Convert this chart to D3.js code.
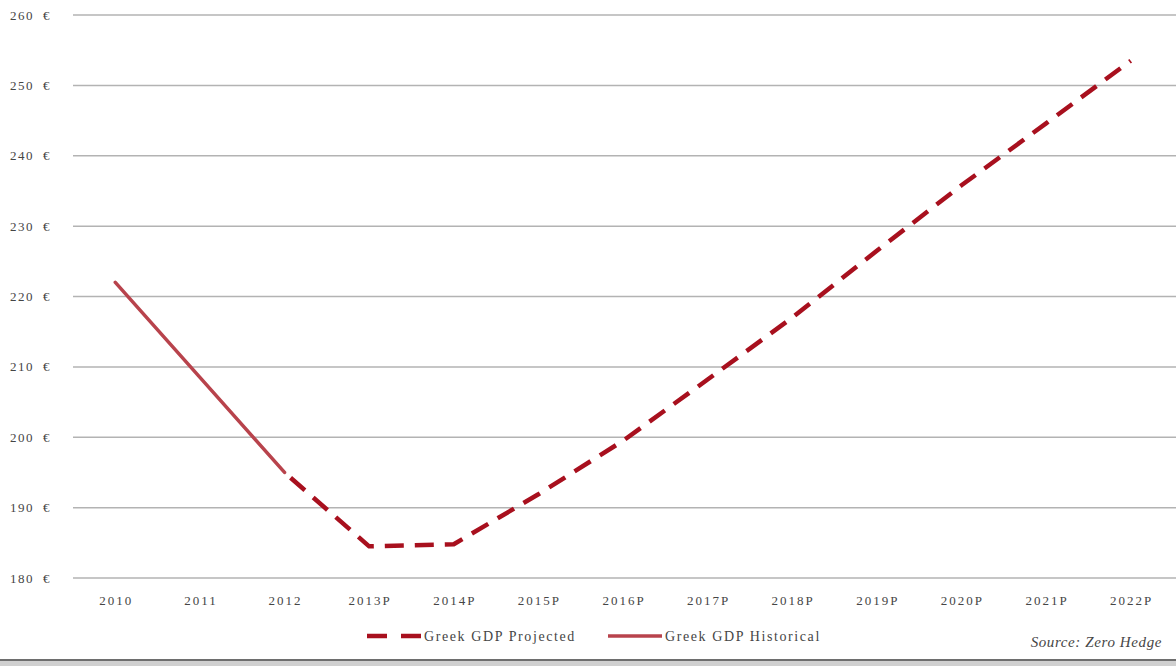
<!DOCTYPE html>
<html><head><meta charset="utf-8">
<script src="https://cdn.jsdelivr.net/npm/d3@7"></script>
<style>body{margin:0;background:#fff;}svg{display:block;}</style>
</head><body><svg id="c" width="1176" height="666"></svg>
<script>
const categories = ["2010","2011","2012","2013P","2014P","2015P","2016P","2017P","2018P","2019P","2020P","2021P","2022P"];
const historical = [222.0, 208.5, 195.0, null, null, null, null, null, null, null, null, null, null];
const projected = [null, null, 195.0, 184.5, 184.8, 191.9, 199.5, 208.2, 217.0, 226.5, 235.8, 244.6, 253.5];
const yTicks = [180,190,200,210,220,230,240,250,260];
const legendLabels = ["Greek GDP Projected", "Greek GDP Historical"];
const sourceText = "Source: Zero Hedge";

const svg = d3.select("#c");
const W = 1176, H = 666;
const x = d3.scaleBand().domain(categories).range([73, 1173]);
const y = d3.scaleLinear().domain([180, 260]).range([578, 15]);
const font = "'Liberation Serif', 'DejaVu Serif', serif";
const textCol = "#454545";

// gridlines
svg.append("g").selectAll("line").data(yTicks).join("line")
  .attr("x1", 73).attr("x2", W).attr("y1", d => y(d)).attr("y2", d => y(d))
  .attr("stroke", "#b3b3b3").attr("stroke-width", 1.5);

// y labels
const yl = svg.append("g").selectAll("g").data(yTicks).join("g");
yl.append("text")
  .attr("x", 10).attr("y", d => y(d) + 4.5)
  .attr("font-family", font).attr("font-size", 13).attr("letter-spacing", 1.5).attr("fill", textCol)
  .text(d => d);
yl.append("text")
  .attr("x", 43).attr("y", d => y(d) + 4.5)
  .attr("font-family", font).attr("font-size", 13).attr("fill", textCol)
  .text("€");

// x labels
svg.append("g").selectAll("text").data(categories).join("text")
  .attr("x", d => x(d) + x.bandwidth() / 2 + 1).attr("y", 605).attr("text-anchor", "middle")
  .attr("font-family", font).attr("font-size", 13).attr("letter-spacing", 2).attr("fill", textCol)
  .text(d => d);

const line = d3.line()
  .defined(d => d.v != null)
  .x(d => x(d.c) + x.bandwidth() / 2)
  .y(d => y(d.v));

svg.append("path")
  .datum(categories.map((c, i) => ({c, v: historical[i]})))
  .attr("d", line).attr("fill", "none")
  .attr("stroke", "#b8434c").attr("stroke-width", 3.5).attr("stroke-linecap", "round");

svg.append("path")
  .datum(categories.map((c, i) => ({c, v: projected[i]})))
  .attr("d", line).attr("fill", "none")
  .attr("stroke", "#a8101e").attr("stroke-width", 4.5).attr("stroke-linejoin", "round")
  .attr("stroke-dasharray", "19,11").attr("stroke-dashoffset", -8);

// legend
const ly = 636;
const lg = svg.append("g");
lg.append("line").attr("x1", 367).attr("x2", 421).attr("y1", ly).attr("y2", ly)
  .attr("stroke", "#a8101e").attr("stroke-width", 4.5).attr("stroke-dasharray", "20,14");
lg.append("text").attr("x", 424).attr("y", ly + 4.5).attr("font-family", font).attr("font-size", 14)
  .attr("letter-spacing", 1.6).attr("fill", textCol)
  .text(legendLabels[0]);
lg.append("line").attr("x1", 608).attr("x2", 662).attr("y1", ly).attr("y2", ly)
  .attr("stroke", "#b8434c").attr("stroke-width", 3.5);
lg.append("text").attr("x", 665).attr("y", ly + 4.5).attr("font-family", font).attr("font-size", 14)
  .attr("letter-spacing", 1.6).attr("fill", textCol)
  .text(legendLabels[1]);

// source
svg.append("text").attr("x", 1162).attr("y", 647).attr("text-anchor", "end")
  .attr("font-family", font).attr("font-style", "italic").attr("font-size", 15).attr("letter-spacing", 0.6)
  .attr("fill", textCol)
  .text(sourceText);

// bottom border
svg.append("rect").attr("x", 0).attr("y", 659).attr("width", W).attr("height", 7).attr("fill", "#d0d0d0");
svg.append("rect").attr("x", 0).attr("y", 659).attr("width", W).attr("height", 2).attr("fill", "#6e6e6e");
</script></body></html>
